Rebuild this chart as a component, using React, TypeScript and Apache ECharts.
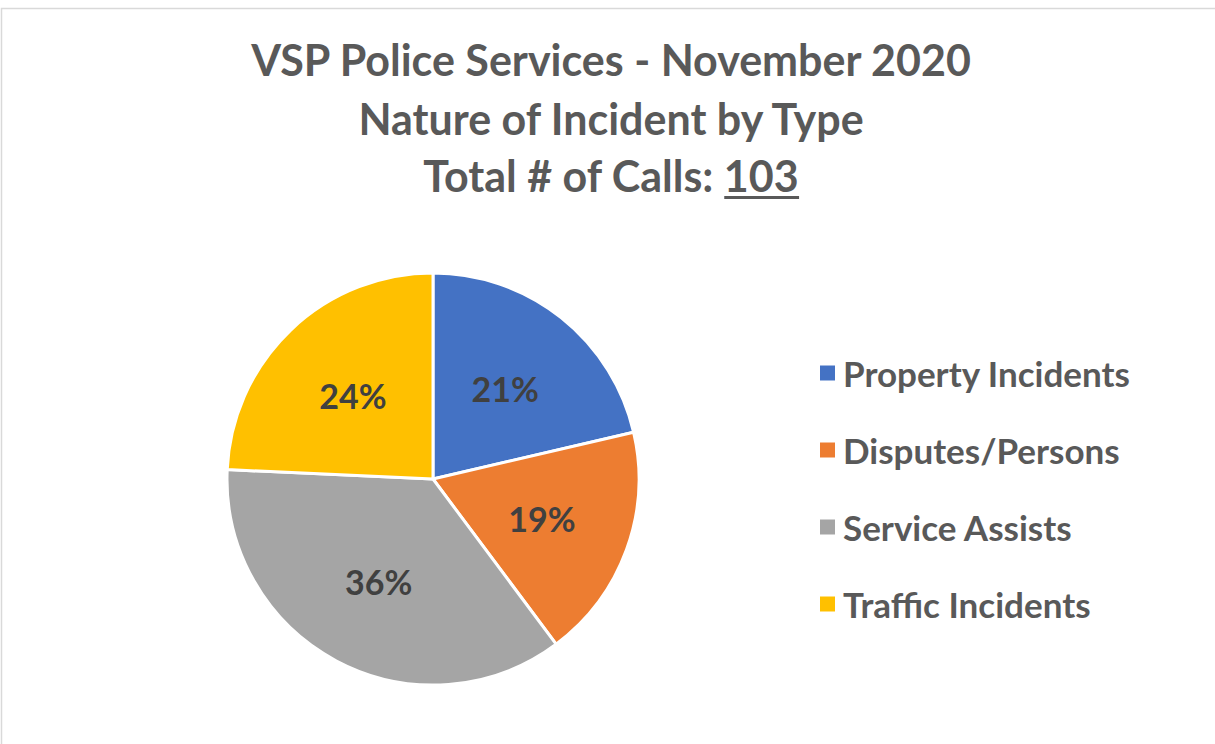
import React, { useEffect, useRef } from 'react';
import * as echarts from 'echarts';

const categories = ['Property Incidents', 'Disputes/Persons', 'Service Assists', 'Traffic Incidents'];
const callCounts = [22, 19, 37, 25];
const sliceColors = ['#4472C4', '#ED7D31', '#A5A5A5', '#FFC000'];
const titleLines = ['VSP Police Services - November 2020', 'Nature of Incident by Type'];
const totalLabel = 'Total # of Calls: ';
const totalValue = '103';

const FONT = 'Lato';
const TITLE_SIZE = 43;
const TITLE_COLOR = '#595959';
const LEGEND_SIZE = 35;

export default function App() {
  const ref = useRef<HTMLDivElement>(null);

  useEffect(() => {
    if (!ref.current) return;
    const chart = echarts.init(ref.current, null, { renderer: 'svg' });

    const titleFont = `bold ${TITLE_SIZE}px ${FONT}`;
    const ctx = document.createElement('canvas').getContext('2d')!;
    ctx.font = titleFont;
    const wAll = ctx.measureText(totalLabel + totalValue).width;
    const wVal = ctx.measureText(totalValue).width;
    const cx = 611;
    const lineYs = [59, 118, 175];

    const pieData = categories.map((name, i) => ({
      name,
      value: callCounts[i],
      itemStyle: { color: sliceColors[i] },
    }));

    chart.setOption({
      animation: false,
      backgroundColor: '#ffffff',
      graphic: [
        {
          type: 'rect',
          shape: { x: 1.5, y: 8.5, width: 1400, height: 900 },
          style: { fill: 'none', stroke: '#d9d9d9', lineWidth: 1.5 },
          silent: true,
        },
        ...titleLines.map((t, i) => ({
          type: 'text',
          x: cx,
          y: lineYs[i],
          style: {
            text: t,
            font: titleFont,
            fill: TITLE_COLOR,
            textAlign: 'center',
            textVerticalAlign: 'middle',
            align: 'center',
            verticalAlign: 'middle',
          },
        })),
        {
          type: 'text',
          x: cx,
          y: lineYs[2],
          style: {
            text: totalLabel + totalValue,
            font: titleFont,
            fill: TITLE_COLOR,
            textAlign: 'center',
            textVerticalAlign: 'middle',
            align: 'center',
            verticalAlign: 'middle',
          },
        },
        {
          type: 'line',
          shape: { x1: cx + wAll / 2 - wVal, y1: 197.5, x2: cx + wAll / 2, y2: 197.5 },
          style: { stroke: TITLE_COLOR, lineWidth: 3 },
        },
      ],
      legend: {
        orient: 'vertical',
        left: 818,
        top: 373 - LEGEND_SIZE / 2,
        padding: 0,
        icon: 'rect',
        itemWidth: 17,
        itemHeight: 17,
        itemGap: 77 - LEGEND_SIZE,
        data: categories,
        textStyle: {
          fontFamily: FONT,
          fontWeight: 'bold',
          fontSize: LEGEND_SIZE,
          lineHeight: LEGEND_SIZE,
          color: TITLE_COLOR,
          padding: [0, 0, 0, 2],
        },
      },
      series: [
        {
          type: 'pie',
          center: [433, 479],
          radius: 206,
          startAngle: 90,
          clockwise: true,
          silent: true,
          data: pieData,
          itemStyle: { borderColor: '#ffffff', borderWidth: 3 },
          label: { show: false },
          labelLine: { show: false },
        },
        {
          type: 'pie',
          center: [433, 479],
          radius: 226,
          startAngle: 90,
          clockwise: true,
          silent: true,
          z: 3,
          percentPrecision: 0,
          data: categories.map((name, i) => ({ name, value: callCounts[i] })),
          itemStyle: { color: 'rgba(0,0,0,0)', borderWidth: 0 },
          label: {
            show: true,
            position: 'inside',
            formatter: '{d}%',
            fontFamily: FONT,
            fontWeight: 'bold',
            fontSize: 34,
            color: '#404040',
          },
          labelLine: { show: false },
        },
      ],
    });

    return () => chart.dispose();
  }, []);

  return (
    <div
      ref={ref}
      style={{ position: 'absolute', left: 0, top: 0, width: 1215, height: 744 }}
    />
  );
}
